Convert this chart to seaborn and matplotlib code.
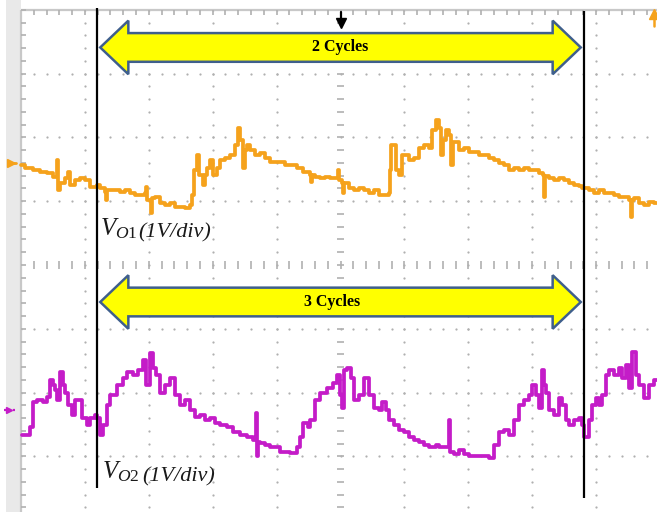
import numpy as np
import pandas as pd
import matplotlib
matplotlib.use("Agg")
import matplotlib.pyplot as plt
from matplotlib.patches import Polygon, Rectangle
import seaborn as sns

# ---------------------------------------------------------------------------
# Scope record (64 samples per horizontal division, 1 V/div on both channels)
# ---------------------------------------------------------------------------
ch1_sample = [0, 4, 12, 19, 26, 32, 35, 36, 37, 39, 44, 47, 49, 54, 59, 64, 69, 76, 79, 84,
              85, 86, 89, 94, 99, 104, 109, 114, 119, 124, 125, 126, 129, 130, 131, 134, 139,
              144, 149, 154, 159, 164, 169, 171, 173, 176, 178, 182, 184, 186, 189, 192, 196,
              199, 204, 209, 214, 217, 219, 222, 224, 226, 229, 234, 239, 244, 249, 254, 259,
              264, 269, 276, 282, 289, 290, 291, 294, 299, 304, 309, 316, 317, 318, 322, 323,
              324, 329, 334, 339, 344, 349, 354, 359, 364, 369, 370, 371, 374, 376, 379, 382,
              386, 389, 394, 399, 404, 409, 412, 416, 419, 421, 423, 426, 429, 431, 433, 439,
              444, 449, 454, 459, 464, 469, 474, 479, 484, 489, 494, 499, 504, 509, 514, 519,
              523, 524, 525, 529, 534, 539, 544, 549, 554, 559, 562, 569, 574, 579, 584, 589,
              594, 599, 604, 609, 611, 612, 614, 619, 624, 629, 634, 637]
ch1_volts = [-0.03, -0.08, -0.11, -0.14, -0.16, -0.22, -0.22, 0.05, -0.42, -0.31, -0.23, -0.14,
             -0.34, -0.27, -0.23, -0.27, -0.38, -0.34, -0.39, -0.45, -0.58, -0.42, -0.42, -0.42,
             -0.45, -0.42, -0.47, -0.50, -0.50, -0.47, -0.38, -0.58, -0.58, -0.78, -0.55, -0.53,
             -0.63, -0.66, -0.63, -0.69, -0.69, -0.70, -0.66, -0.50, -0.11, 0.13, -0.19, -0.34,
             -0.19, -0.08, 0.05, -0.19, -0.08, 0.05, 0.08, 0.13, 0.28, 0.55, 0.36, -0.08, 0.20,
             0.28, 0.20, 0.13, 0.16, 0.08, 0.02, 0.02, 0.02, -0.03, -0.03, -0.08, -0.14, -0.19,
             -0.30, -0.19, -0.22, -0.23, -0.22, -0.23, -0.23, -0.11, -0.27, -0.31, -0.47, -0.31,
             -0.39, -0.42, -0.39, -0.42, -0.47, -0.42, -0.50, -0.50, -0.47, -0.11, 0.28, 0.28,
             -0.11, -0.19, 0.13, 0.13, 0.05, 0.08, 0.23, 0.28, 0.23, 0.52, 0.67, 0.55, 0.13, 0.36,
             0.52, 0.44, -0.03, 0.33, 0.20, 0.23, 0.17, 0.17, 0.13, 0.13, 0.08, 0.05, 0.00, -0.03,
             -0.11, -0.08, -0.11, -0.08, -0.11, -0.11, -0.16, -0.19, -0.53, -0.20, -0.23, -0.27,
             -0.23, -0.27, -0.31, -0.34, -0.36, -0.39, -0.42, -0.47, -0.42, -0.47, -0.47, -0.50,
             -0.53, -0.53, -0.58, -0.84, -0.58, -0.55, -0.63, -0.66, -0.61, -0.63, -0.63]

ch2_sample = [1, 6, 9, 12, 16, 22, 26, 29, 32, 34, 36, 39, 42, 44, 47, 51, 54, 57, 61, 66, 69,
              74, 76, 79, 82, 86, 89, 92, 96, 102, 106, 112, 117, 122, 125, 129, 132, 135, 139,
              144, 149, 154, 159, 164, 169, 174, 179, 184, 189, 194, 199, 206, 212, 219, 226,
              232, 234, 235, 236, 237, 239, 244, 249, 259, 269, 276, 279, 282, 287, 289, 294,
              299, 306, 312, 316, 319, 322, 324, 327, 331, 334, 339, 344, 349, 354, 359, 362,
              366, 369, 374, 379, 384, 389, 394, 399, 404, 409, 416, 419, 428, 429, 430, 434,
              439, 444, 449, 459, 469, 474, 479, 484, 489, 494, 499, 504, 509, 512, 516, 519,
              522, 524, 526, 529, 534, 539, 542, 546, 549, 554, 559, 562, 564, 569, 572, 576,
              579, 582, 586, 589, 594, 599, 602, 606, 609, 612, 616, 619, 624, 629, 634, 637]
ch2_volts = [-0.39, -0.39, -0.27, 0.13, 0.16, 0.13, 0.20, 0.47, 0.39, 0.31, 0.16, 0.59, 0.39,
             0.27, 0.08, -0.08, 0.16, 0.16, -0.13, -0.23, -0.13, -0.08, -0.13, -0.39, -0.23,
             0.08, 0.23, 0.23, 0.39, 0.50, 0.59, 0.55, 0.63, 0.78, 0.39, 0.89, 0.66, 0.55, 0.27,
             0.39, 0.50, 0.23, 0.08, 0.16, 0.00, -0.11, -0.08, -0.16, -0.13, -0.20, -0.23, -0.27,
             -0.34, -0.39, -0.42, -0.47, -0.47, -0.05, -0.73, -0.50, -0.52, -0.55, -0.59, -0.66,
             -0.67, -0.59, -0.42, -0.20, -0.27, -0.16, 0.16, 0.27, 0.34, 0.42, 0.55, 0.23, 0.03,
             0.63, 0.66, 0.50, 0.16, 0.23, 0.50, 0.23, 0.03, 0.00, 0.13, 0.00, -0.16, -0.23,
             -0.31, -0.34, -0.42, -0.47, -0.50, -0.55, -0.59, -0.55, -0.58, -0.59, -0.16, -0.66,
             -0.70, -0.63, -0.70, -0.73, -0.73, -0.75, -0.55, -0.34, -0.31, -0.39, -0.16, 0.08,
             0.16, 0.23, 0.39, 0.23, 0.03, 0.63, 0.39, 0.27, 0.00, -0.08, 0.19, 0.08, -0.16,
             -0.23, -0.16, -0.13, -0.23, -0.42, -0.16, 0.08, 0.19, 0.08, 0.23, 0.55, 0.63, 0.55,
             0.66, 0.50, 0.70, 0.34, 0.91, 0.55, 0.39, 0.19, 0.39, 0.47, 0.47]

SAMPLES_PER_DIV = 64
VOLTS_PER_DIV = 1.0
ch1_ground_div = 1.60       # channel 1 reference level (divisions above centre)
ch2_ground_div = -2.27      # channel 2 reference level
cursor_div = [1.19, 8.81]   # vertical cursors (divisions from left edge)

cycle_labels = ["2 Cycles", "3 Cycles"]
channel_names = [r"$\mathit{V_{O1}}$", r"$\mathit{V_{O2}}$"]
scale_text = "(1V/div)"

CH1_COLOR = "#F5A21C"
CH2_COLOR = "#C41CC8"
GRAT = "#b0b0b0"

# ---------------------------------------------------------------------------
sns.set_style("white")
plt.rcParams["font.family"] = ["Liberation Serif", "DejaVu Serif"]
plt.rcParams["mathtext.fontset"] = "custom"
plt.rcParams["mathtext.it"] = "Liberation Serif:italic"
plt.rcParams["mathtext.rm"] = "Liberation Serif"

fig = plt.figure(figsize=(6.57, 5.12), dpi=100)
ax = fig.add_axes([0, 0, 1, 1])

# screen geometry: 10 x 8 divisions
PX_X, PX_Y = 63.9, 63.8
LEFT_PX, CENTER_PX = 21, 265
xlim = (-LEFT_PX / PX_X, (657 - LEFT_PX) / PX_X)
ylim = (-(512 - CENTER_PX) / PX_Y, CENTER_PX / PX_Y)
tick_x = 5 / PX_X
tick_y = 5 / PX_Y

# bezel strip on the left
ax.add_patch(Rectangle((xlim[0] + 0.1, ylim[0]), -xlim[0] - 0.1, ylim[1] - ylim[0],
                       fc="#e9e9e9", ec="none", zorder=0))

# graticule
mx = np.arange(0, 10.001, 0.2)
my = np.arange(-4, 4.001, 0.2)
for yr in [-3, -2, -1, 1, 2, 3]:
    ax.plot(mx, np.full_like(mx, yr), ls="none", marker="o", ms=1.6, color=GRAT, mew=0, zorder=1)
for xc in [1, 2, 3, 4, 6, 7, 8, 9]:
    ax.plot(np.full_like(my, xc), my, ls="none", marker="o", ms=1.6, color=GRAT, mew=0, zorder=1)
ax.vlines(mx, -tick_y * 0.8, tick_y * 0.8, color=GRAT, lw=1.2, zorder=1)
ax.hlines(my, 5 - tick_x * 0.7, 5 + tick_x * 0.7, color=GRAT, lw=1.2, zorder=1)
ax.hlines(4, 0, 10, color="#c8c8c8", lw=1.6, zorder=1)
ax.vlines(mx, 4 - tick_y, 4, color=GRAT, lw=1.2, zorder=1)
ax.vlines(0, -4, 4, color="#c8c8c8", lw=1.6, zorder=1)
ax.hlines(my, 0, tick_x, color=GRAT, lw=1.2, zorder=1)

# traces
df1 = pd.DataFrame({"t": np.array(ch1_sample) / SAMPLES_PER_DIV,
                    "y": ch1_ground_div + np.array(ch1_volts) / VOLTS_PER_DIV})
df2 = pd.DataFrame({"t": np.array(ch2_sample) / SAMPLES_PER_DIV,
                    "y": ch2_ground_div + np.array(ch2_volts) / VOLTS_PER_DIV})
sns.lineplot(data=df1, x="t", y="y", estimator=None, sort=False, drawstyle="steps-post",
             color=CH1_COLOR, lw=2.7, ax=ax, zorder=3)
sns.lineplot(data=df2, x="t", y="y", estimator=None, sort=False, drawstyle="steps-post",
             color=CH2_COLOR, lw=2.7, ax=ax, zorder=3)

# channel reference markers
ax.plot([-0.16], [ch1_ground_div], marker=">", ms=6, color=CH1_COLOR, zorder=4)
ax.plot([-0.2, -0.08], [ch1_ground_div, ch1_ground_div], color=CH1_COLOR, lw=2, zorder=4)
ax.plot([-0.18], [ch2_ground_div], marker=">", ms=5, color=CH2_COLOR, zorder=4)
ax.plot([-0.26, -0.1], [ch2_ground_div, ch2_ground_div], color=CH2_COLOR, lw=1.6, ls=(0, (1, 1)), zorder=4)

# trigger position and trigger level markers
ax.plot([5, 5], [4 - 0.03, 4 - 0.22], color="black", lw=1.6, zorder=4)
ax.plot([5], [4 - 0.2], marker="v", ms=7, color="black", zorder=4)
ax.plot([9.9, 9.9], [4 - 0.05, 4 - 0.25], color=CH1_COLOR, lw=1.8, zorder=4)
ax.plot([9.9], [4 - 0.07], marker="^", ms=7, color=CH1_COLOR, zorder=4)

# cursors
ax.vlines(cursor_div[0], -3.50, 4.03, color="black", lw=1.6, zorder=4)
ax.vlines(cursor_div[1], -3.65, 3.98, color="black", lw=1.6, zorder=4)


def block_arrow(t0, t1, yc, shaft_h, head_h, head_l):
    pts = [(t0, yc), (t0 + head_l, yc + head_h), (t0 + head_l, yc + shaft_h),
           (t1 - head_l, yc + shaft_h), (t1 - head_l, yc + head_h), (t1, yc),
           (t1 - head_l, yc - head_h), (t1 - head_l, yc - shaft_h),
           (t0 + head_l, yc - shaft_h), (t0 + head_l, yc - head_h)]
    ax.add_patch(Polygon(pts, closed=True, fc="#ffff00", ec="#3f5f8c", lw=1.8,
                         joinstyle="miter", zorder=5))


arrow_rows = [3.41, -0.58]
text_pos = [4.99, 4.87]
for yc, lab, tx in zip(arrow_rows, cycle_labels, text_pos):
    block_arrow(cursor_div[0] + 0.05, cursor_div[1] - 0.05, yc, 0.225, 0.42, 0.44)
    ax.text(tx, yc, lab, ha="center", va="center", fontsize=11.5, fontweight="bold",
            color="black", zorder=6)

# channel captions
name_pos = [(1.24, 0.47), (1.27, -3.34)]
scale_pos = [(1.84, 0.43), (1.90, -3.39)]
for name, (nx, ny), (sx, sy) in zip(channel_names, name_pos, scale_pos):
    ax.text(nx, ny, name, fontsize=18, va="baseline", ha="left", color="#1a1a1a", zorder=6)
    ax.text(sx, sy, scale_text, fontsize=16, style="italic", va="baseline", ha="left",
            color="#1a1a1a", zorder=6)

ax.set_xlim(*xlim)
ax.set_ylim(*ylim)
ax.axis("off")
fig.savefig("out.png", dpi=100)
